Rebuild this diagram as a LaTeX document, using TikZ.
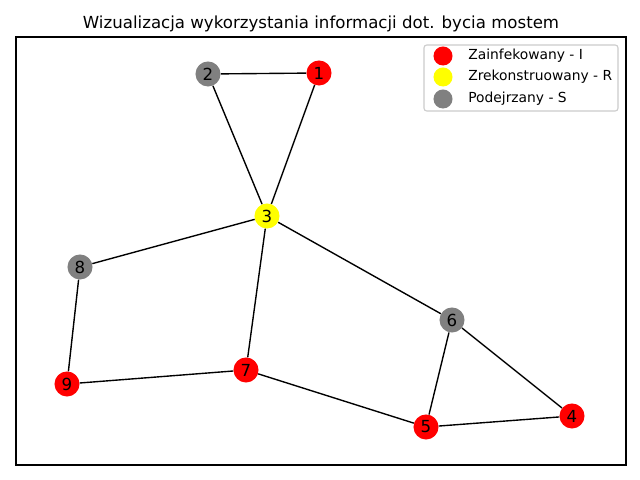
\documentclass[tikz,border=0pt]{standalone}
\usepackage{fontspec}
\setmainfont{DejaVu Sans}
\definecolor{nred}{RGB}{255,0,0}
\definecolor{nyel}{RGB}{255,255,0}
\definecolor{ngray}{RGB}{128,128,128}
\tikzset{
  vert/.style={circle, minimum size=0.25in, inner sep=0pt, font=\fontsize{12}{14}\selectfont},
  inf/.style={vert, fill=nred},
  rec/.style={vert, fill=nyel},
  sus/.style={vert, fill=ngray},
  edge/.style={line width=1pt, black},
  legmark/.style={circle, minimum size=0.19in, inner sep=0pt},
  legtext/.style={anchor=west, inner sep=0pt, font=\fontsize{10}{12}\selectfont}
}
\begin{document}
\begin{tikzpicture}[x=0.01in, y=-0.01in]
\useasboundingbox (0,0) rectangle (640,480);
\fill[white] (0,0) rectangle (640,480);
\draw[line width=0.8pt] (16,37) rectangle (626,465);
\node[anchor=base, inner sep=0pt, font=\fontsize{12}{14}\selectfont] (title) at (321,29) {Wizualizacja wykorzystania informacji dot. bycia mostem};
% nodes
\node[inf] (n1) at (319,73) {1};
\node[sus] (n2) at (208,74) {2};
\node[rec] (n3) at (267,216) {3};
\node[inf] (n4) at (572,416) {4};
\node[inf] (n5) at (426,427) {5};
\node[sus] (n6) at (452,320) {6};
\node[inf] (n7) at (246,370) {7};
\node[sus] (n8) at (80,267) {8};
\node[inf] (n9) at (67,384) {9};
% edges
\draw[edge] (n2)--(n1) (n2)--(n3) (n1)--(n3) (n3)--(n8) (n3)--(n7) (n3)--(n6)
  (n8)--(n9) (n9)--(n7) (n7)--(n5) (n5)--(n6) (n6)--(n4) (n5)--(n4);
% legend
\draw[line width=0.8pt, draw=black!20, fill=white, fill opacity=0.8, rounded corners=2pt] (424,45) rectangle (618,111);
\node[legmark, fill=nred] (l1) at (443,56) {};
\node[legmark, fill=nyel] (l2) at (443,77) {};
\node[legmark, fill=ngray] (l3) at (443,99) {};
\node[legtext] (t1) at (468,56) {Zainfekowany - I};
\node[legtext] (t2) at (468,77) {Zrekonstruowany - R};
\node[legtext] (t3) at (468,99) {Podejrzany - S};
\end{tikzpicture}
\end{document}
